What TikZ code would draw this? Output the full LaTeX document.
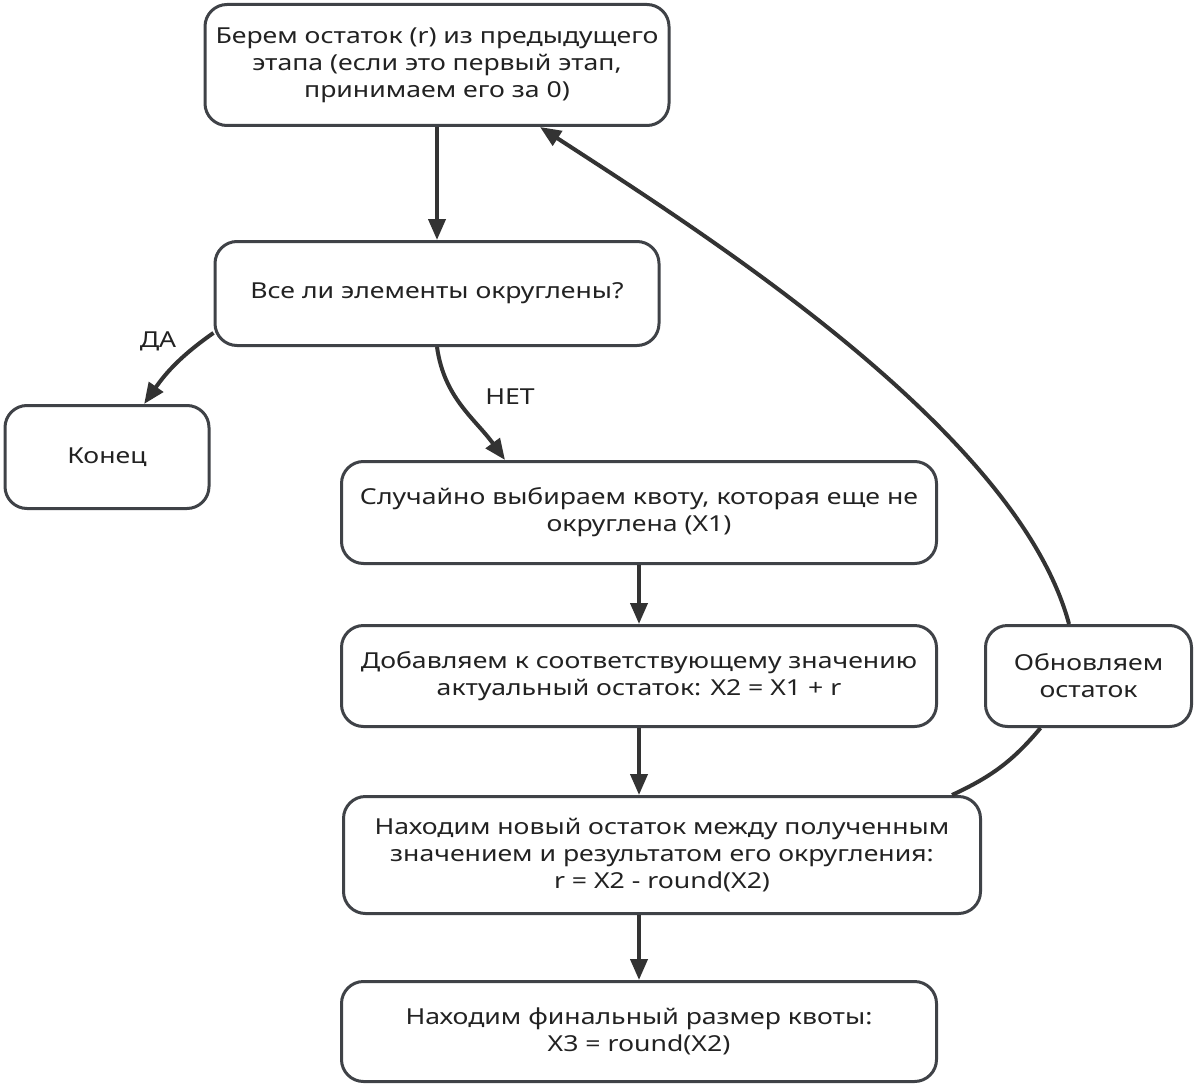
\documentclass[tikz,border=0pt]{standalone}
\usepackage{fontspec}
\setmainfont{Noto Sans}[FakeStretch=1.21]
\usepackage{xcolor}
\usetikzlibrary{positioning, arrows.meta}
\definecolor{boxline}{HTML}{3F4247}
\definecolor{arrline}{HTML}{333333}
\definecolor{txt}{HTML}{222222}

\begin{document}
\begin{tikzpicture}[
  x=1pt, y=1pt,
  box/.style={draw=boxline, line width=3pt, rounded corners=22pt, fill=white, align=center, text=txt, inner sep=0pt, font=\fontsize{22}{27}\selectfont},
  arr/.style={-{Triangle[length=21pt, width=17pt]}, line width=4pt, arrline},
  link/.style={line width=4pt, arrline},
  lbl/.style={text=txt, font=\fontsize{22}{27}\selectfont},
]
\useasboundingbox (0,0) rectangle (1198,-1086);

% === Top: loop start and check ===
\node[box, minimum width=464pt, minimum height=121pt] (start) at (437,-65) {Берем остаток (r) из предыдущего\\этапа (если это первый этап,\\принимаем его за 0)};

\node[box, minimum width=444pt, minimum height=104pt] (check) at (437,-293.5) {Все ли элементы округлены?};
\draw[arr] (start) -- (check);

% End
\node[box, minimum width=204pt, minimum height=103pt] (stop) at (107,-457) {Конец};
\draw[arr] (check.190) to[out=215, in=55] (stop.55);
\node[lbl] (yes) at (158,-341) {ДА};

% === Middle: one rounding step ===
\node[box, minimum width=595pt, minimum height=102pt] (pick) at (639,-512.5) {Случайно выбираем квоту, которая еще не\\округлена (X1)};
\draw[arr] (check.south) to[out=-82, in=126] ([xshift=-134pt]pick.north);
\node[lbl] (no) at (510,-397) {НЕТ};

\node[box, minimum width=595pt, minimum height=101pt, below=59pt of pick] (add) {Добавляем к соответствующему значению\\актуальный остаток: X2 = X1 + r};
\draw[arr] (pick) -- (add);

\node[box, minimum width=637pt, minimum height=117pt] (newrem) at (662,-855) {Находим новый остаток между полученным\\значением и результатом его округления:\\r = X2 - round(X2)};
\draw[arr] (add.south) -- (add.south |- newrem.north);

% Final size
\node[box, minimum width=595pt, minimum height=100pt] (final) at (639,-1031.5) {Находим финальный размер квоты:\\X3 = round(X2)};
\draw[arr] (final.north |- newrem.south) -- (final.north);

% === Feedback loop ===
\node[box, minimum width=206pt, minimum height=101pt, right=46pt of add] (update) {Обновляем\\остаток};
\draw[link] ([xshift=290pt]newrem.north) to[out=25, in=-130] ([xshift=-48pt]update.south);
\draw[arr] ([xshift=-19.5pt]update.north) to[out=105, in=-33, looseness=0.7] ([xshift=103pt]start.south);

\end{tikzpicture}
\end{document}
